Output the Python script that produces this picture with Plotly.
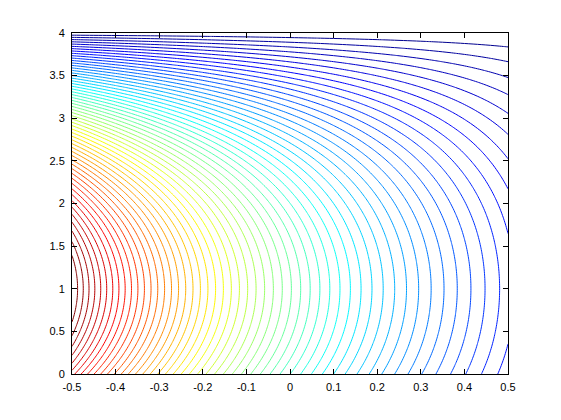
import numpy as np
import plotly.graph_objects as go

# axis tick values
x_ticks = [-0.5, -0.4, -0.3, -0.2, -0.1, 0, 0.1, 0.2, 0.3, 0.4, 0.5]
y_ticks = [0, 0.5, 1, 1.5, 2, 2.5, 3, 3.5, 4]
x_tick_labels = ["-0.5", "-0.4", "-0.3", "-0.2", "-0.1", "0", "0.1", "0.2", "0.3", "0.4", "0.5"]
y_tick_labels = ["0", "0.5", "1", "1.5", "2", "2.5", "3", "3.5", "4"]

# sampling grid of the surface
x_grid = np.linspace(-0.5, 0.5, 101)
y_grid = np.linspace(0.0, 4.0, 201)

# surface parameters: peak at y=1 on the left edge,
# zero along y=4, value at right edge a small fraction of the peak
decay_k = 1.0
right_ratio = 0.16
n_levels = 58

a = (1 - right_ratio) / (np.exp(decay_k * 0.5) - np.exp(-decay_k * 0.5))
b = 1 - a * np.exp(decay_k * 0.5)
h = a * np.exp(-decay_k * x_grid) + b
g = (4 - y_grid) * (y_grid + 2) / 9.0
z = np.outer(g, h)

dz = 1.0 / (n_levels + 1)

jet = [
    [0.0, "rgb(0,0,143)"],
    [0.125, "rgb(0,0,255)"],
    [0.375, "rgb(0,255,255)"],
    [0.625, "rgb(255,255,0)"],
    [0.875, "rgb(255,0,0)"],
    [1.0, "rgb(128,0,0)"],
]

fig = go.Figure(
    go.Contour(
        x=x_grid,
        y=y_grid,
        z=z,
        autocontour=False,
        contours=dict(coloring="lines", start=dz, end=1 - dz / 2, size=dz, showlabels=False),
        line=dict(width=1),
        colorscale=jet,
        zmin=0,
        zmax=1,
        showscale=False,
        hoverinfo="skip",
    )
)

axis_common = dict(
    showline=True,
    linecolor="black",
    linewidth=1,
    mirror="ticks",
    ticks="inside",
    ticklen=5,
    tickcolor="black",
    showgrid=False,
    zeroline=False,
    tickfont=dict(family="Liberation Sans, Arial, sans-serif", size=11, color="black"),
)

fig.update_layout(
    width=553,
    height=412,
    margin=dict(l=64, r=53, t=25, b=46),
    paper_bgcolor="white",
    plot_bgcolor="white",
    xaxis=dict(range=[-0.5, 0.5], tickvals=x_ticks, ticktext=x_tick_labels,
               ticklabelstandoff=3, **axis_common),
    yaxis=dict(range=[0, 4], tickvals=y_ticks, ticktext=y_tick_labels,
               ticklabelstandoff=4, **axis_common),
    showlegend=False,
)

fig.write_html("out.html")
